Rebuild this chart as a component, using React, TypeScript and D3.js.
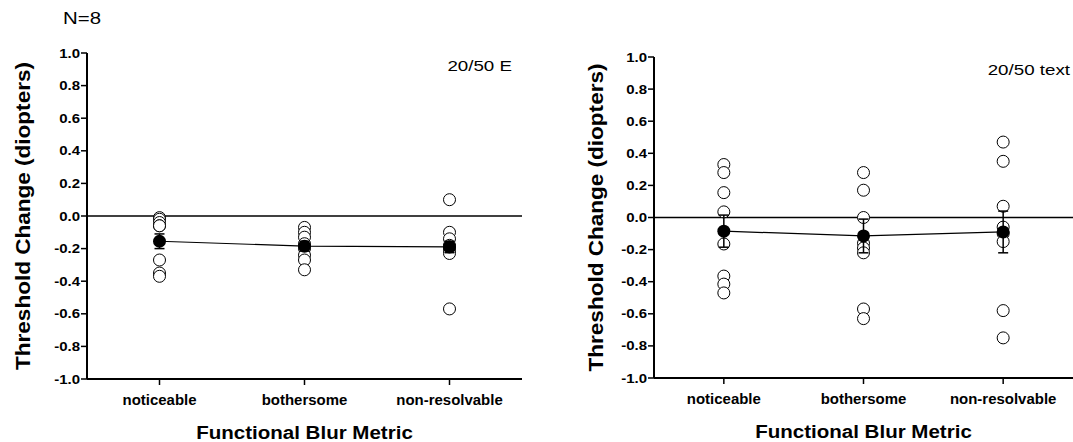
import React from "react";
import * as d3 from "d3";

const categories = ["noticeable", "bothersome", "non-resolvable"];
const yTicks = [1.0, 0.8, 0.6, 0.4, 0.2, 0.0, -0.2, -0.4, -0.6, -0.8, -1.0];

// Panel A: 20/50 E — individual subjects (N=8)
const eNoticeable = [-0.01, -0.02, -0.04, -0.06, -0.06, -0.27, -0.35, -0.37];
const eBothersome = [-0.07, -0.10, -0.13, -0.17, -0.20, -0.24, -0.27, -0.33];
const eNonResolvable = [0.10, -0.10, -0.14, -0.18, -0.19, -0.21, -0.23, -0.57];
const eMeans = [-0.155, -0.185, -0.19];
const eErrors = [0.045, 0.03, 0.035];

// Panel B: 20/50 text
const tNoticeable = [0.33, 0.28, 0.155, 0.035, -0.165, -0.365, -0.415, -0.47];
const tBothersome = [0.28, 0.17, 0.0, -0.16, -0.19, -0.22, -0.57, -0.63];
const tNonResolvable = [0.47, 0.35, 0.07, -0.06, -0.10, -0.15, -0.58, -0.75];
const tMeans = [-0.085, -0.115, -0.09];
const tErrors = [0.1, 0.105, 0.13];

const SX = 1.2;
const FONT = "'Liberation Sans', Arial, sans-serif";

type PanelProps = {
  x0: number;
  x1: number;
  yTop: number;
  yBot: number;
  label: string;
  labelX: number;
  points: number[][];
  means: number[];
  errors: number[];
  titleX: number;
};

function Panel({ x0, x1, yTop, yBot, label, labelX, points, means, errors, titleX }: PanelProps) {
  const x = d3.scalePoint<string>().domain(categories).range([x0, x1]).padding(0.5);
  const y = d3.scaleLinear().domain([-1, 1]).range([yBot, yTop]);
  const line = d3
    .line<number>()
    .x((_, i) => x(categories[i]) as number)
    .y((d) => y(d));
  const cx = (x0 + x1) / 2;
  return (
    <g>
      {/* y axis */}
      <line x1={x0} x2={x0} y1={yTop} y2={yBot} stroke="#000" strokeWidth={2} />
      {yTicks.map((t) => (
        <g key={t}>
          <line x1={x0 - 6} x2={x0} y1={y(t)} y2={y(t)} stroke="#000" strokeWidth={1.5} />
          <text
            transform={`translate(${x0 - 7},${y(t) + 4.5}) scale(${SX},1)`}
            textAnchor="end"
            fontFamily={FONT}
            fontWeight="bold"
            fontSize={12.5}
          >
            {t.toFixed(1)}
          </text>
        </g>
      ))}
      {/* x axis */}
      <line x1={x0} x2={x1} y1={yBot} y2={yBot} stroke="#000" strokeWidth={2} />
      {categories.map((c) => (
        <g key={c}>
          <line x1={x(c)} x2={x(c)} y1={yBot} y2={yBot + 6} stroke="#000" strokeWidth={1.5} />
          <text
            transform={`translate(${x(c)},${yBot + 26}) scale(1.07,1)`}
            textAnchor="middle"
            fontFamily={FONT}
            fontWeight="bold"
            fontSize={14}
          >
            {c}
          </text>
        </g>
      ))}
      {/* zero line */}
      <line x1={x0} x2={x1} y1={y(0)} y2={y(0)} stroke="#000" strokeWidth={1.5} />
      {/* individual points */}
      {points.map((vals, i) =>
        vals.map((v, j) => (
          <circle
            key={`${i}-${j}`}
            cx={x(categories[i])}
            cy={y(v)}
            r={6}
            fill="#fff"
            stroke="#000"
            strokeWidth={1}
          />
        ))
      )}
      {/* error bars */}
      {means.map((m, i) => {
        const px = x(categories[i]) as number;
        return (
          <g key={`e${i}`} stroke="#000" strokeWidth={1.5}>
            <line x1={px} x2={px} y1={y(m + errors[i])} y2={y(m - errors[i])} />
            <line x1={px - 5} x2={px + 5} y1={y(m + errors[i])} y2={y(m + errors[i])} />
            <line x1={px - 5} x2={px + 5} y1={y(m - errors[i])} y2={y(m - errors[i])} />
          </g>
        );
      })}
      {/* mean line */}
      <path d={line(means) as string} fill="none" stroke="#000" strokeWidth={1.2} />
      {means.map((m, i) => (
        <circle key={`m${i}`} cx={x(categories[i])} cy={y(m)} r={6.5} fill="#000" />
      ))}
      {/* panel label */}
      <text
        transform={`translate(${labelX},${yTop + 18}) scale(1.25,1)`}
        textAnchor="end"
        fontFamily={FONT}
        fontSize={15}
      >
        {label}
      </text>
      {/* y title */}
      <text
        transform={`translate(${titleX},${(yTop + yBot) / 2}) rotate(-90) scale(1.1,1)`}
        textAnchor="middle"
        fontFamily={FONT}
        fontWeight="bold"
        fontSize={20.5}
      >
        Threshold Change (diopters)
      </text>
      {/* x title */}
      <text
        transform={`translate(${cx},${yBot + 60}) scale(1.11,1)`}
        textAnchor="middle"
        fontFamily={FONT}
        fontWeight="bold"
        fontSize={18.5}
      >
        Functional Blur Metric
      </text>
    </g>
  );
}

export default function App() {
  return (
    <svg
      width={1073}
      height={442}
      style={{ position: "absolute", left: 0, top: 0, background: "#fff" }}
    >
      <rect width={1073} height={442} fill="#fff" />
      <text
        transform={`translate(63,24) scale(${SX},1)`}
        fontFamily={FONT}
        fontSize={17}
      >
        N=8
      </text>
      <Panel
        x0={87}
        x1={522}
        yTop={53}
        yBot={379}
        label="20/50 E"
        labelX={512}
        points={[eNoticeable, eBothersome, eNonResolvable]}
        means={eMeans}
        errors={eErrors}
        titleX={30}
      />
      <Panel
        x0={654}
        x1={1073}
        yTop={57}
        yBot={378}
        label="20/50 text"
        labelX={1070}
        points={[tNoticeable, tBothersome, tNonResolvable]}
        means={tMeans}
        errors={tErrors}
        titleX={603}
      />
    </svg>
  );
}
